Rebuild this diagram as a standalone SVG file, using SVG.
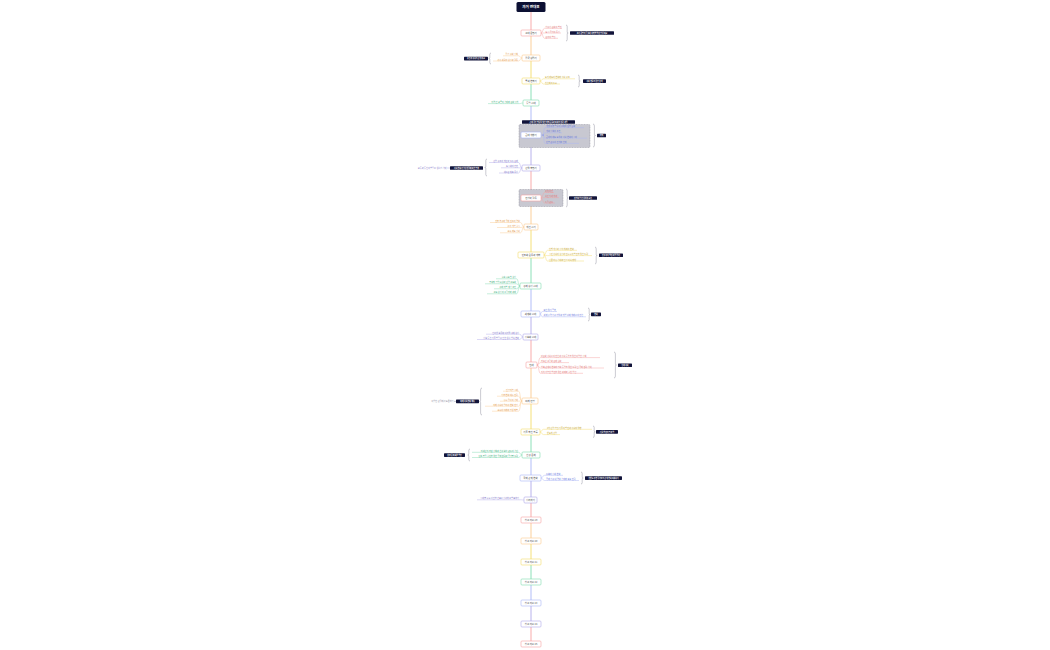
<svg xmlns="http://www.w3.org/2000/svg" width="1050" height="650" viewBox="0 0 1050 650">
<style>
text{font-family:"Noto Sans CJK KR","Noto Sans",sans-serif}
.box{fill:#fff;stroke-width:.6}
.nt{font-size:2.4px;fill:#444;text-anchor:middle}
.ct{font-size:2.1px}
.e{text-anchor:end}
.ln{fill:none;stroke-width:.45}
.sp{fill:none;stroke-width:.9}
.br{fill:none;stroke:#8a8a9a;stroke-width:.45}
.lb{fill:#12143a}
.lt{font-size:1.8px;fill:#fff;font-weight:bold;text-anchor:middle}
.grp{fill:#c8c8d1;stroke:#7c7c88;stroke-width:.4;stroke-dasharray:1 .6}
.R{stroke:#f7a1a1}.O{stroke:#fbc98f}.Y{stroke:#f4dc6a}.G{stroke:#7fdcb0}.B{stroke:#a9b5f7}.P{stroke:#b0a9ea}
.fR{fill:#e07272}.fO{fill:#df9645}.fY{fill:#c6a528}.fG{fill:#35ad78}.fB{fill:#6474dc}.fP{fill:#7c72c8}
</style>
<g id="connectors">
<path class="sp R" d="M531 12V30M531 171V195M531 340V362M531 503V517M531 627V641"/>
<path class="sp O" d="M531 36V55M531 201V224M531 368V398M531 523V538"/>
<path class="sp Y" d="M531 61V78M531 230V252M531 404V429M531 544V559"/>
<path class="sp G" d="M531 84V100M531 258V283M531 435V452M531 565V579"/>
<path class="sp B" d="M531 106V132M531 289V311M531 458V475M531 585V600"/>
<path class="sp P" d="M531 138V165M531 317V334M531 481V497M531 606V621"/>
</g>
<g id="title"><rect x="516.5" y="2" width="29" height="10" rx="1.5" fill="#0c1033"/><text x="531" y="8.4" font-size="3.6" font-weight="bold" fill="#fff" text-anchor="middle">과거 연대표</text></g>
<g id="n1">
<path class="ln R" d="M541 33C543 33 542.5 28.3 544.5 28.3H562M541 33H544.5 H561M541 33C543 33 542.5 38.3 544.5 38.3H558"/>
<rect class="box R" x="521" y="30" width="20" height="6" rx="1"/><text class="nt" x="531" y="33.85">고대 문명기</text>
<text class="ct fR" x="545.5" y="27.8">청동기 문화의 발전</text><text class="ct fR" x="545.5" y="32.5">도시 국가의 등장</text><text class="ct fR" x="545.5" y="37.8">문자의 발명</text>
<path class="br" d="M566 25q1.2 0 1.2 1.5V32q0 1 1 1q-1 0-1 1V39.5q0 1.5-1.2 1.5"/>
<rect class="lb" x="570" y="31.2" width="44" height="3.6" rx=".6"/><text class="lt" x="592" y="33.65">초기 문명의 특징과 지역별 발전 양상 비교</text>
</g>
<g id="n2">
<path class="ln O" d="M522 58C520 58 520.5 55.8 518.5 55.8H503M522 58C520 58 520.5 61 518.5 61H493"/>
<rect class="box O" x="522" y="55" width="18" height="6" rx="1"/><text class="nt" x="531" y="58.85">왕국 성립기</text>
<text class="ct fO e" x="518" y="55.3">왕권 강화 정책</text><text class="ct fO e" x="518" y="60.5">귀족 세력의 성장과 갈등</text>
<path class="br" d="M491 53q-1.2 0-1.2 1.5V57.5q0 1-1 1q1 0 1 1V62.5q0 1.5 1.2 1.5"/>
<rect class="lb" x="464" y="56.8" width="24" height="3.6" rx=".6"/><text class="lt" x="476" y="59.25">왕권과 귀족의 관계 비교</text>
</g>
<g id="n3">
<path class="ln Y" d="M540 81C542 81 541.5 78.8 543.5 78.8H575M540 81C542 81 541.5 84 543.5 84H560"/>
<rect class="box Y" x="522" y="78" width="18" height="6" rx="1"/><text class="nt" x="531" y="81.85">중세 변혁기</text>
<text class="ct fY" x="545" y="78.3">토지 제도의 변화와 사회 구조</text><text class="ct fY" x="545" y="83.5">신분제의 동요</text>
<path class="br" d="M578 75q1.2 0 1.2 1.5V80q0 1 1 1q-1 0-1 1V85.5q0 1.5-1.2 1.5"/>
<rect class="lb" x="583" y="79.3" width="23" height="3.6" rx=".6"/><text class="lt" x="594.5" y="81.75">사회 변동의 원인 분석</text>
</g>
<g id="n4">
<path class="ln G" d="M523 103C521 103 521 103.6 519.5 103.6H488"/>
<rect class="box G" x="523" y="100" width="16" height="6" rx="1"/><text class="nt" x="531" y="103.85">통일 시대</text>
<text class="ct fG e" x="518.5" y="103.1">지역 간 교류의 확대와 문화 융합</text>
</g>
<g id="n5">
<rect class="grp" x="519" y="124.5" width="71" height="23" rx="1"/>
<rect class="lb" x="522" y="120.3" width="53" height="3.4" rx=".5"/><text class="lt" x="548.5" y="122.65">근대 국가 형성을 위한 개혁 운동과 외세의 침략 과정</text>
<path class="ln B" d="M541 135H543M543 135C544 135 543.5 127.6 545 127.6H584M543 135C544 135 543.5 132.8 545 132.8H562M543 135C544 135 543.5 138.2 545 138.2H587M543 135C544 135 543.5 143.4 545 143.4H579"/>
<circle cx="543" cy="135" r=".6" fill="#6474dc"/>
<rect class="box B" x="521" y="132" width="20" height="6" rx="1"/><text class="nt" x="531" y="135.85">근대 개항기</text>
<text class="ct fB" x="546" y="127.1">개항 이후 열강의 경제적 침탈 심화</text><text class="ct fB" x="546" y="132.3">개화 정책의 추진</text><text class="ct fB" x="546" y="137.7">근대적 제도 도입과 사회 변화의 시작</text><text class="ct fB" x="546" y="142.9">민중 운동의 전개와 한계</text>
<path class="br" d="M593 124q1.4 0 1.4 2V134.5q0 1 1 1q-1 0-1 1V145q0 2-1.4 2"/>
<rect class="lb" x="597" y="133.7" width="9" height="3.6" rx=".6"/><text class="lt" x="601.5" y="136.15">개혁</text>
</g>
<g id="n6">
<path class="ln P" d="M522 168C520 168 520.5 162.5 518.5 162.5H489M522 168C520 168 520.5 167.8 518.5 167.8H501M522 168C520 168 520.5 173 518.5 173H499"/>
<rect class="box P" x="522" y="165" width="18" height="6" rx="1"/><text class="nt" x="531" y="168.85">산업 혁명기</text>
<text class="ct fP e" x="518" y="162">산업 구조의 재편과 노동 문제</text><text class="ct fP e" x="518" y="167.3">도시화의 진전</text><text class="ct fP e" x="518" y="172.5">새로운 계층 등장</text>
<path class="br" d="M487 159q-1.2 0-1.2 1.5V166.5q0 1-1 1q1 0 1 1V174.5q0 1.5 1.2 1.5"/>
<rect class="lb" x="450" y="166.2" width="33" height="3.6" rx=".6"/><text class="lt" x="466.5" y="168.65">사회 변화가 일상생활에 미친 영향</text>
<path class="ln P" d="M450 168H447"/><text class="ct fP e" x="446.5" y="168.7">교통과 통신의 발달로 생활권 확대</text>
</g>
<g id="n7">
<rect class="grp" x="519" y="189.5" width="44" height="17" rx="1"/>
<path class="ln R" d="M541 198C543 198 542.5 192.5 544.5 192.5H554M541 198C543 198 542.5 197.6 544.5 197.6H559M541 198C543 198 542.5 203 544.5 203H555"/>
<rect class="box R" x="521" y="195" width="20" height="6" rx="1"/><text class="nt" x="531" y="198.85">전쟁과 갈등</text>
<text class="ct fR" x="545" y="192">세계 대전</text><text class="ct fR" x="545" y="197.1">식민 지배 체제</text><text class="ct fR" x="545" y="202.5">독립 운동</text>
<path class="br" d="M566 189q1.2 0 1.2 2V197q0 1 1 1q-1 0-1 1V205q0 2-1.2 2"/>
<rect class="lb" x="569" y="196.2" width="28" height="3.6" rx=".6"/><text class="lt" x="583" y="198.65">전쟁이 남긴 상처와 교훈</text>
</g>
<g id="n8">
<path class="ln O" d="M524 227C522 227 522.5 222.5 520.5 222.5H490M524 227C522 227 522.5 227.5 520.5 227.5H497M524 227C522 227 522.5 232.8 520.5 232.8H500"/>
<rect class="box O" x="524" y="224" width="14" height="6" rx="1"/><text class="nt" x="531" y="227.85">재건 시기</text>
<text class="ct fO e" x="520" y="222">전후 복구와 국제 원조의 역할</text><text class="ct fO e" x="520" y="227">농지 개혁 실시</text><text class="ct fO e" x="520" y="232.3">교육 제도 정비</text>
</g>
<g id="n9">
<path class="ln Y" d="M544 255C546 255 545.5 250.3 547.5 250.3H577M544 255C546 255 545.5 255.6 547.5 255.6H592M544 255C546 255 545.5 261 547.5 261H584"/>
<rect class="box Y" x="518" y="252" width="26" height="6" rx="1"/><text class="nt" x="531" y="255.85">민주화 운동과 개혁</text>
<text class="ct fY" x="549" y="249.8">헌법 개정과 정치 체제의 변화</text><text class="ct fY" x="549" y="255.1">시민 사회의 성장과 민주주의 발전을 위한 노력</text><text class="ct fY" x="549" y="260.5">언론 자유 확대와 인권 의식 향상</text>
<path class="br" d="M595 247q1.2 0 1.2 2V254.5q0 1 1 1q-1 0-1 1V262q0 2-1.2 2"/>
<rect class="lb" x="599" y="253.5" width="24" height="3.6" rx=".6"/><text class="lt" x="611" y="255.95">민주주의 발전 과정 정리</text>
</g>
<g id="n10">
<path class="ln G" d="M520 286C518 286 518.5 278.8 516.5 278.8H496M520 286C518 286 518.5 283.8 516.5 283.8H485M520 286C518 286 518.5 288.8 516.5 288.8H494M520 286C518 286 518.5 293.8 516.5 293.8H487"/>
<rect class="box G" x="520" y="283" width="21" height="6" rx="1"/><text class="nt" x="530.5" y="286.85">경제 성장 시대</text>
<text class="ct fG e" x="516" y="278.3">수출 주도형 성장</text><text class="ct fG e" x="516" y="283.3">중화학 공업 육성과 산업 고도화</text><text class="ct fG e" x="516" y="288.3">경제 개발 계획 추진</text><text class="ct fG e" x="516" y="293.3">고도 성장의 그림자와 과제</text>
</g>
<g id="n11">
<path class="ln B" d="M540 314C541.5 314 541 311.5 542.5 311.5H557M540 314C541.5 314 541 316.8 542.5 316.8H586"/>
<rect class="box B" x="521" y="311" width="19" height="6" rx="1"/><text class="nt" x="530.5" y="314.85">세계화 시대</text>
<text class="ct fB" x="543.5" y="311">외환 위기 극복</text><text class="ct fB" x="543.5" y="316.3">세계 무역 기구 가입과 개방 경제 체제로의 전환</text>
<path class="br" d="M588 308q1.2 0 1.2 1.5V313.5q0 1 1 1q-1 0-1 1V319.5q0 1.5-1.2 1.5"/>
<rect class="lb" x="591" y="312.6" width="10" height="3.6" rx=".6"/><text class="lt" x="596" y="315.05">변화</text>
</g>
<g id="n12">
<path class="ln P" d="M523 337C521 337 521.5 334.2 519.5 334.2H486M523 337C521 337 521.5 339.5 519.5 339.5H477"/>
<rect class="box P" x="523" y="334" width="15" height="6" rx="1"/><text class="nt" x="530.5" y="337.85">정보화 시대</text>
<text class="ct fP e" x="519" y="333.7">인터넷 보급과 디지털 경제 성장</text><text class="ct fP e" x="519" y="339">정보 통신 기술 발달로 인한 생활 방식 변화</text>
</g>
<g id="n13">
<path class="ln R" d="M537 365C539 365 538.5 357.6 540.5 357.6H600M537 365C539 365 538.5 362.6 540.5 362.6H569M537 365C539 365 538.5 368 540.5 368H604M537 365C539 365 538.5 373.3 540.5 373.3H583"/>
<rect class="box R" x="526" y="362" width="11" height="6" rx="1"/><text class="nt" x="531.5" y="365.85">현대</text>
<text class="ct fR" x="541" y="357.1">다문화 사회로의 전환과 사회 통합을 위한 다양한 정책</text><text class="ct fR" x="541" y="362.1">저출산 고령화 문제 심화</text><text class="ct fR" x="541" y="367.5">남북 관계의 변화와 평화 통일을 위한 노력 및 국제 협력 확대</text><text class="ct fR" x="541" y="372.8">지속 가능한 발전을 위한 과제와 실천 방안</text>
<path class="br" d="M614 352q1.4 0 1.4 2V364q0 1 1 1q-1 0-1 1V376q0 2-1.4 2"/>
<rect class="lb" x="618" y="363.4" width="14" height="3.6" rx=".6"/><text class="lt" x="625" y="365.85">현대 사회</text>
</g>
<g id="n14">
<path class="ln O" d="M522 401C520 401 520.5 391.2 518.5 391.2H503M522 401C520 401 520.5 396.2 518.5 396.2H497M522 401C520 401 520.5 401.2 518.5 401.2H500M522 401C520 401 520.5 406.2 518.5 406.2H485M522 401C520 401 520.5 411.2 518.5 411.2H492"/>
<rect class="box O" x="522" y="398" width="16" height="6" rx="1"/><text class="nt" x="530" y="401.85">미래 전망</text>
<text class="ct fO e" x="518" y="390.7">인공지능 시대</text><text class="ct fO e" x="518" y="395.7">기후 변화 대응 전략</text><text class="ct fO e" x="518" y="400.7">우주 탐사의 확대</text><text class="ct fO e" x="518" y="405.7">미래 사회의 일자리 변화 전망</text><text class="ct fO e" x="518" y="410.7">교육의 미래와 평생 학습</text>
<path class="br" d="M482 388q-1.4 0-1.4 2V400.5q0 1-1 1q1 0 1 1V413q0 2 1.4 2"/>
<rect class="lb" x="456" y="399.6" width="23" height="3.6" rx=".6"/><text class="lt" x="467.5" y="402.05">미래 사회 변화 예측</text>
<path class="br" d="M456 401.4H454"/><text class="ct e" x="453.5" y="402.1" fill="#8a8aa0">다양한 관점에서 토론하기</text>
</g>
<g id="n15">
<path class="ln Y" d="M540 432C542 432 541.5 429.3 543.5 429.3H592M540 432C542 432 541.5 434.6 543.5 434.6H560"/>
<rect class="box Y" x="521" y="429" width="19" height="6" rx="1"/><text class="nt" x="530.5" y="432.85">기술 혁신 흐름</text>
<text class="ct fY" x="547" y="428.8">4차 산업 혁명 기술의 발전과 사회적 영향</text><text class="ct fY" x="547" y="434.1">반도체 산업</text>
<path class="br" d="M593 426q1.2 0 1.2 1.5V430.8q0 1 1 1q-1 0-1 1V436q0 1.5-1.2 1.5"/>
<rect class="lb" x="596" y="430.1" width="22" height="3.6" rx=".6"/><text class="lt" x="607" y="432.55">기술 발전의 명과 암</text>
</g>
<g id="n16">
<path class="ln G" d="M522 455C520 455 520.5 452.3 518.5 452.3H472M522 455C520 455 520.5 457.5 518.5 457.5H472"/>
<rect class="box G" x="522" y="452" width="18" height="6" rx="1"/><text class="nt" x="531" y="455.85">환경 문제</text>
<text class="ct fG e" x="518" y="451.8">미세먼지 저감 정책과 환경 보호 운동의 확산</text><text class="ct fG e" x="518" y="457">탄소 중립 실현을 위한 국제 협력과 국가별 노력</text>
<path class="br" d="M470 449q-1.2 0-1.2 1.5V454q0 1-1 1q1 0 1 1V459.5q0 1.5 1.2 1.5"/>
<rect class="lb" x="444" y="453.3" width="21" height="3.6" rx=".6"/><text class="lt" x="454.5" y="455.75">환경 문제 해결 방안</text>
</g>
<g id="n17">
<path class="ln B" d="M541 478C543 478 542.5 475.3 544.5 475.3H563M541 478C543 478 542.5 480.5 544.5 480.5H579"/>
<rect class="box B" x="520" y="475" width="21" height="6" rx="1"/><text class="nt" x="530.5" y="478.85">국제 관계 변화</text>
<text class="ct fB" x="546" y="474.8">동북아 정세 변화</text><text class="ct fB" x="546" y="480">국제 기구 내 역할 확대와 외교 전략</text>
<path class="br" d="M581 472q1.2 0 1.2 1.5V477q0 1 1 1q-1 0-1 1V482.5q0 1.5-1.2 1.5"/>
<rect class="lb" x="585" y="476.3" width="37" height="3.6" rx=".6"/><text class="lt" x="603.5" y="478.75">한반도 주변 국가와의 관계 변화 이해하기</text>
</g>
<g id="n18">
<path class="ln P" d="M524 500C522 500 522 499.8 520.5 499.8H477"/>
<rect class="box P" x="524" y="497" width="13" height="6" rx="1"/><text class="nt" x="530.5" y="500.85">정리하기</text>
<text class="ct fP e" x="519" y="499.3">시대별 주요 사건을 연표로 정리하고 발표하기</text>
</g>
<g id="n19"><rect class="box R" x="521" y="517" width="20" height="6" rx="1"/><text class="nt" x="531" y="520.85">참고 자료 19</text></g>
<g id="n20"><rect class="box O" x="521" y="538" width="20" height="6" rx="1"/><text class="nt" x="531" y="541.85">참고 자료 20</text></g>
<g id="n21"><rect class="box Y" x="521" y="559" width="20" height="6" rx="1"/><text class="nt" x="531" y="562.85">참고 자료 21</text></g>
<g id="n22"><rect class="box G" x="521" y="579" width="20" height="6" rx="1"/><text class="nt" x="531" y="582.85">참고 자료 22</text></g>
<g id="n23"><rect class="box B" x="521" y="600" width="20" height="6" rx="1"/><text class="nt" x="531" y="603.85">참고 자료 23</text></g>
<g id="n24"><rect class="box P" x="521" y="621" width="20" height="6" rx="1"/><text class="nt" x="531" y="624.85">참고 자료 24</text></g>
<g id="n25"><rect class="box R" x="521" y="641" width="20" height="6" rx="1"/><text class="nt" x="531" y="644.85">참고 자료 25</text></g>
</svg>
